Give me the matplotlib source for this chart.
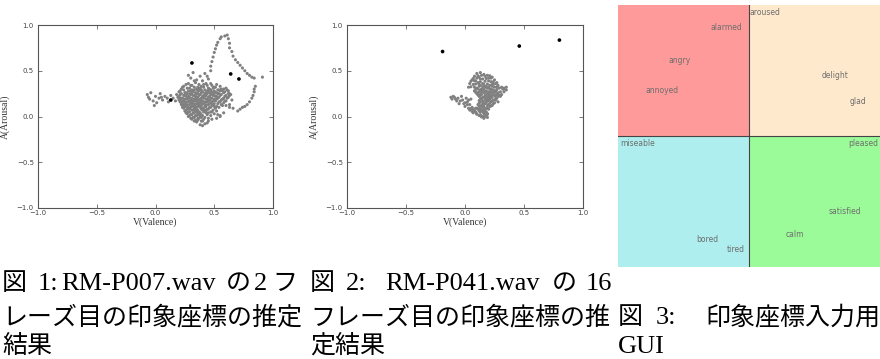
import matplotlib
matplotlib.use("Agg")
import matplotlib.pyplot as plt
from matplotlib.patches import Rectangle

# ---- data: fig 1 (RM-P007.wav, phrase 2) ----
p1_x = [-0.07, -0.06, -0.05, -0.04, -0.02, 0.00, 0.01, 0.03, 0.05, 0.06, 0.08, 0.10, 0.11, 0.13, 0.15, 0.17, 0.18, 0.20, -0.01, 0.04,
        0.28, 0.34, 0.41, 0.47,
        0.24, 0.30, 0.36, 0.39, 0.44, 0.50, 0.55,
        0.22, 0.27, 0.31, 0.35, 0.38, 0.42, 0.46, 0.49, 0.53, 0.58, 0.62,
        0.20, 0.25, 0.28, 0.32, 0.34, 0.37, 0.40, 0.43, 0.45, 0.48, 0.51, 0.55, 0.59, 0.63,
        0.21, 0.24, 0.27, 0.30, 0.33, 0.35, 0.38, 0.41, 0.44, 0.47, 0.50, 0.53, 0.56, 0.60, 0.64,
        0.19, 0.23, 0.26, 0.29, 0.31, 0.34, 0.36, 0.39, 0.42, 0.45, 0.48, 0.51, 0.54, 0.58, 0.62,
        0.20, 0.24, 0.27, 0.30, 0.32, 0.35, 0.37, 0.40, 0.43, 0.46, 0.49, 0.52, 0.56, 0.60, 0.65,
        0.22, 0.25, 0.28, 0.31, 0.33, 0.36, 0.38, 0.41, 0.44, 0.47, 0.50, 0.54, 0.58, 0.63,
        0.23, 0.26, 0.29, 0.32, 0.34, 0.37, 0.39, 0.42, 0.45, 0.48, 0.52, 0.57,
        0.24, 0.27, 0.30, 0.33, 0.35, 0.38, 0.41, 0.44, 0.47, 0.51,
        0.25, 0.28, 0.31, 0.34, 0.37, 0.40, 0.43, 0.47, 0.52, 0.58,
        0.27, 0.30, 0.33, 0.36, 0.39, 0.43, 0.50, 0.55,
        0.28, 0.32, 0.35, 0.38, 0.42, 0.47,
        0.31, 0.34, 0.37, 0.41,
        0.35, 0.39, 0.44, 0.38,
        0.28, 0.30, 0.32, 0.35, 0.38, 0.42, 0.45, 0.47, 0.33, 0.40, 0.44,
        0.47, 0.48, 0.49, 0.50, 0.51, 0.52, 0.53, 0.55, 0.56, 0.59, 0.61, 0.62, 0.63, 0.63, 0.65, 0.66, 0.68, 0.70, 0.72, 0.74, 0.76, 0.78, 0.80, 0.82, 0.84, 0.91,
        0.85, 0.84, 0.84, 0.83, 0.82, 0.80, 0.78, 0.76, 0.74, 0.72, 0.70, 0.66, 0.63, 0.60,
        0.40, 0.42, 0.45, 0.48, 0.52, 0.55, 0.53,
        # second, denser pass over the core
        0.26, 0.31, 0.37, 0.43, 0.48, 0.52,
        0.23, 0.29, 0.33, 0.37, 0.41, 0.45, 0.51, 0.56, 0.60,
        0.21, 0.24, 0.30, 0.33, 0.36, 0.39, 0.44, 0.47, 0.50, 0.54, 0.57, 0.61,
        0.22, 0.26, 0.29, 0.31, 0.36, 0.39, 0.42, 0.46, 0.49, 0.52, 0.54, 0.58, 0.62,
        0.20, 0.25, 0.28, 0.32, 0.34, 0.37, 0.40, 0.43, 0.46, 0.49, 0.52, 0.55, 0.59, 0.63,
        0.21, 0.22, 0.25, 0.28, 0.33, 0.35, 0.38, 0.41, 0.44, 0.47, 0.50, 0.53, 0.57, 0.61,
        0.21, 0.23, 0.26, 0.29, 0.31, 0.34, 0.36, 0.39, 0.42, 0.45, 0.48, 0.51, 0.55, 0.59,
        0.22, 0.24, 0.27, 0.30, 0.33, 0.35, 0.37, 0.40, 0.43, 0.46, 0.49, 0.53, 0.56,
        0.23, 0.25, 0.28, 0.31, 0.34, 0.36, 0.39, 0.43, 0.46, 0.50, 0.54,
        0.26, 0.29, 0.32, 0.34, 0.36, 0.39, 0.42, 0.45, 0.49,
        0.26, 0.29, 0.32, 0.35, 0.38, 0.41, 0.45, 0.48,
        0.29, 0.31, 0.34, 0.37, 0.40, 0.44,
        0.30, 0.33, 0.36, 0.39, 0.45,
        0.33, 0.36, 0.40]
p1_y = [0.24, 0.21, 0.19, 0.26, 0.17, 0.22, 0.15, 0.20, 0.21, 0.18, 0.22, 0.20, 0.16, 0.23, 0.20, 0.17, 0.24, 0.21, 0.12, 0.25,
        0.36, 0.37, 0.35, 0.36,
        0.33, 0.34, 0.32, 0.33, 0.34, 0.32, 0.33,
        0.30, 0.31, 0.29, 0.30, 0.31, 0.29, 0.30, 0.31, 0.29, 0.30, 0.28,
        0.27, 0.26, 0.28, 0.27, 0.26, 0.28, 0.27, 0.26, 0.28, 0.27, 0.26, 0.28, 0.27, 0.25,
        0.24, 0.23, 0.25, 0.24, 0.23, 0.25, 0.24, 0.23, 0.25, 0.24, 0.23, 0.25, 0.24, 0.23, 0.24,
        0.21, 0.20, 0.22, 0.21, 0.20, 0.22, 0.21, 0.20, 0.22, 0.21, 0.20, 0.22, 0.21, 0.20, 0.21,
        0.18, 0.17, 0.19, 0.18, 0.17, 0.19, 0.18, 0.17, 0.19, 0.18, 0.17, 0.19, 0.18, 0.17, 0.18,
        0.15, 0.14, 0.16, 0.15, 0.14, 0.16, 0.15, 0.14, 0.16, 0.15, 0.14, 0.16, 0.15, 0.13,
        0.12, 0.11, 0.13, 0.12, 0.11, 0.13, 0.12, 0.11, 0.13, 0.12, 0.11, 0.12,
        0.09, 0.08, 0.10, 0.09, 0.08, 0.10, 0.09, 0.08, 0.10, 0.09,
        0.06, 0.05, 0.07, 0.06, 0.05, 0.07, 0.06, 0.05, 0.06, 0.04,
        0.03, 0.02, 0.04, 0.03, 0.02, 0.04, 0.03, 0.01,
        0.00, -0.01, 0.01, 0.00, -0.01, 0.01,
        -0.03, -0.04, -0.02, -0.03,
        -0.06, -0.05, -0.07, -0.09,
        0.45, 0.42, 0.48, 0.40, 0.44, 0.47, 0.41, 0.50, 0.39, 0.39, 0.44,
        0.55, 0.60, 0.65, 0.70, 0.74, 0.78, 0.81, 0.85, 0.87, 0.88, 0.89, 0.85, 0.80, 0.75, 0.71, 0.66, 0.62, 0.59, 0.56, 0.53, 0.50, 0.47, 0.45, 0.43, 0.42, 0.43,
        0.33, 0.30, 0.27, 0.23, 0.20, 0.16, 0.13, 0.11, 0.10, 0.08, 0.06, 0.09, 0.10, 0.12,
        -0.10, -0.08, -0.05, -0.03, -0.02, 0.00, 0.02,
        0.35, 0.34, 0.35, 0.36, 0.34, 0.35,
        0.32, 0.31, 0.32, 0.30, 0.32, 0.31, 0.32, 0.30, 0.31,
        0.28, 0.29, 0.28, 0.29, 0.28, 0.29, 0.28, 0.29, 0.28, 0.29, 0.28, 0.29,
        0.25, 0.26, 0.25, 0.26, 0.25, 0.26, 0.25, 0.26, 0.25, 0.26, 0.25, 0.26, 0.25,
        0.22, 0.23, 0.22, 0.23, 0.22, 0.23, 0.22, 0.23, 0.22, 0.23, 0.22, 0.23, 0.22, 0.23,
        0.19, 0.20, 0.19, 0.20, 0.19, 0.20, 0.19, 0.20, 0.19, 0.20, 0.19, 0.20, 0.19, 0.20,
        0.16, 0.17, 0.16, 0.17, 0.16, 0.17, 0.16, 0.17, 0.16, 0.17, 0.16, 0.17, 0.16, 0.17,
        0.13, 0.14, 0.13, 0.14, 0.13, 0.14, 0.13, 0.14, 0.13, 0.14, 0.13, 0.14, 0.13,
        0.10, 0.11, 0.10, 0.11, 0.10, 0.11, 0.10, 0.11, 0.10, 0.11, 0.10,
        0.07, 0.08, 0.07, 0.08, 0.07, 0.08, 0.07, 0.08, 0.07,
        0.04, 0.05, 0.04, 0.05, 0.04, 0.05, 0.04, 0.05,
        0.01, 0.02, 0.01, 0.02, 0.01, 0.02,
        -0.02, -0.01, -0.02, -0.01, -0.02,
        -0.05, -0.04, -0.05]
p1_est_x = [0.31, 0.64, 0.71, 0.13]
p1_est_y = [0.585, 0.465, 0.41, 0.18]

# ---- data: fig 2 (RM-P041.wav, phrase 16) ----
p2_x = [0.10, 0.13, 0.16, 0.19, 0.08, 0.12, 0.20, 0.23, 0.06, 0.09, 0.15, 0.25, 0.04, 0.07, 0.11, 0.22, 0.27, 0.03, 0.28,
        0.13, 0.16, 0.18, 0.21, 0.24,
        0.10, 0.14, 0.17, 0.19, 0.22, 0.25, 0.29, 0.33,
        0.08, 0.12, 0.15, 0.18, 0.20, 0.23, 0.26, 0.30, 0.35,
        0.10, 0.13, 0.16, 0.19, 0.21, 0.24, 0.27, 0.31,
        0.12, 0.15, 0.17, 0.20, 0.22, 0.25, 0.28,
        0.14, 0.17, 0.19, 0.21, 0.24, 0.27,
        0.13, 0.16, 0.19, 0.22, 0.25,
        0.11, 0.14, 0.17, 0.20, 0.23,
        0.06, 0.09, 0.12, 0.15, 0.18, 0.21,
        0.04, 0.08, 0.11, 0.14, 0.17, 0.20,
        0.07, 0.10, 0.13, 0.16, 0.19,
        0.12, 0.15, 0.18,
        0.16, 0.19,
        -0.12, -0.10, -0.08, -0.06, -0.04, -0.02, 0.00, 0.02, 0.04, -0.03, 0.01, 0.05, -0.05, 0.00, 0.03,
        0.33, 0.35, 0.30, 0.28,
        # second, denser pass over the core
        0.11, 0.14, 0.17, 0.21,
        0.07, 0.10, 0.13, 0.18, 0.22,
        0.05, 0.08, 0.13, 0.17, 0.20, 0.24,
        0.09, 0.12, 0.15, 0.19, 0.23, 0.26,
        0.05, 0.08, 0.12, 0.15, 0.20, 0.23, 0.27, 0.31,
        0.09, 0.11, 0.13, 0.16, 0.21, 0.24, 0.27, 0.32,
        0.09, 0.11, 0.14, 0.17, 0.20, 0.22, 0.25, 0.28, 0.33,
        0.11, 0.14, 0.18, 0.21, 0.23, 0.26, 0.29,
        0.13, 0.16, 0.18, 0.21, 0.23, 0.26,
        0.12, 0.15, 0.18, 0.20, 0.23, 0.26,
        0.12, 0.15, 0.18, 0.21, 0.24,
        0.13, 0.16, 0.19, 0.22,
        0.05, 0.07, 0.10, 0.13, 0.16, 0.19,
        0.06, 0.09, 0.12, 0.15, 0.18,
        0.10, 0.13, 0.16, 0.19,
        0.14, 0.17,
        -0.11, -0.09, -0.07, -0.01, 0.02, 0.03]
p2_y = [0.47, 0.48, 0.46, 0.45, 0.44, 0.43, 0.42, 0.43, 0.40, 0.39, 0.41, 0.40, 0.36, 0.35, 0.37, 0.38, 0.37, 0.32, 0.34,
        0.34, 0.35, 0.33, 0.34, 0.35,
        0.31, 0.30, 0.32, 0.31, 0.30, 0.32, 0.31, 0.30,
        0.28, 0.27, 0.29, 0.28, 0.27, 0.29, 0.28, 0.27, 0.29,
        0.25, 0.24, 0.26, 0.25, 0.24, 0.26, 0.25, 0.24,
        0.22, 0.21, 0.23, 0.22, 0.21, 0.23, 0.22,
        0.19, 0.18, 0.20, 0.19, 0.18, 0.20,
        0.16, 0.15, 0.17, 0.16, 0.15,
        0.13, 0.12, 0.14, 0.13, 0.12,
        0.10, 0.09, 0.11, 0.10, 0.09, 0.11,
        0.07, 0.06, 0.08, 0.07, 0.06, 0.08,
        0.04, 0.03, 0.05, 0.04, 0.03,
        0.01, 0.00, 0.02,
        -0.02, -0.01,
        0.21, 0.22, 0.19, 0.20, 0.17, 0.18, 0.15, 0.16, 0.13, 0.22, 0.20, 0.19, 0.14, 0.11, 0.09,
        0.31, 0.32, 0.22, 0.16,
        0.445, 0.45, 0.44, 0.445,
        0.415, 0.42, 0.41, 0.415, 0.42,
        0.385, 0.39, 0.38, 0.385, 0.39, 0.38,
        0.355, 0.35, 0.36, 0.355, 0.35, 0.36,
        0.325, 0.32, 0.33, 0.325, 0.32, 0.33, 0.325, 0.32,
        0.295, 0.30, 0.29, 0.295, 0.30, 0.29, 0.295, 0.30,
        0.265, 0.26, 0.27, 0.265, 0.26, 0.27, 0.265, 0.26, 0.27,
        0.235, 0.24, 0.23, 0.235, 0.24, 0.23, 0.235,
        0.205, 0.21, 0.20, 0.205, 0.21, 0.20,
        0.175, 0.17, 0.18, 0.175, 0.17, 0.18,
        0.145, 0.14, 0.15, 0.145, 0.14,
        0.115, 0.11, 0.12, 0.115,
        0.085, 0.08, 0.09, 0.085, 0.08, 0.09,
        0.055, 0.05, 0.06, 0.055, 0.05,
        0.025, 0.02, 0.03, 0.025,
        -0.005, 0.00,
        0.19, 0.21, 0.17, 0.14, 0.13, 0.18]
p2_est_x = [-0.19, 0.46, 0.80]
p2_est_y = [0.71, 0.77, 0.835]

# ---- data: fig 3 (impression GUI) ----
gui_words = ["alarmed", "aroused", "angry", "annoyed", "delight", "glad",
             "miseable", "pleased", "satisfied", "calm", "bored", "tired"]
gui_v = [-0.17, 0.12, -0.53, -0.66, 0.66, 0.83, -0.85, 0.87, 0.73, 0.35, -0.32, -0.10]
gui_a = [0.83, 0.94, 0.58, 0.35, 0.46, 0.26, -0.06, -0.06, -0.58, -0.75, -0.79, -0.87]
quad_colors = {(-1, 0): "#ff9a9a", (0, 0): "#ffe9cc", (-1, -1): "#aeeeee", (0, -1): "#9afb98"}

captions = [
    ["レーズ目の印象座標の推定", "結果"],
    ["フレーズ目の印象座標の推", "定結果"],
]

W, H = 880, 359
fig = plt.figure(figsize=(W / 100, H / 100), dpi=100)

serif = ["Liberation Serif", "DejaVu Serif"]
cjk = ["Noto Sans CJK JP", "DejaVu Sans"]


def style_axes(ax):
    ax.set_xlim(-1, 1)
    ax.set_ylim(-1, 1)
    ax.set_xticks([-1, -0.5, 0, 0.5, 1])
    ax.set_yticks([-1, -0.5, 0, 0.5, 1])
    ax.tick_params(direction="in", length=3, width=0.5, top=True, right=True,
                   labelsize=5, colors="#444444")
    ax.tick_params(axis="x", pad=1.5)
    ax.tick_params(axis="y", pad=3)
    for s in ax.spines.values():
        s.set_color("#555555")
        s.set_linewidth(0.8)
    ax.set_xlabel("V(Valence)", family=serif, fontsize=7, labelpad=1, color="#333333")
    ax.set_ylabel("A(Arousal)", family=serif, fontsize=7, labelpad=5, color="#333333")


ax1 = fig.add_axes([38 / W, 1 - 208 / H, 235 / W, 183 / H])
ax1.scatter(p1_x, p1_y, s=5, color="#808080", edgecolors="none")
ax1.scatter(p1_est_x, p1_est_y, s=7, color="black", edgecolors="none")
style_axes(ax1)

ax2 = fig.add_axes([347 / W, 1 - 208 / H, 236 / W, 183 / H])
ax2.scatter(p2_x, p2_y, s=5, color="#808080", edgecolors="none")
ax2.scatter(p2_est_x, p2_est_y, s=7, color="black", edgecolors="none")
style_axes(ax2)

ax3 = fig.add_axes([618 / W, 1 - 267 / H, 262 / W, 262 / H])
ax3.set_xlim(-1, 1)
ax3.set_ylim(-1, 1)
for (x0, y0), c in quad_colors.items():
    ax3.add_patch(Rectangle((x0, y0), 1, 1, facecolor=c, edgecolor="none"))
ax3.axvline(0, color="#444444", lw=0.8)
ax3.axhline(0, color="#444444", lw=0.8)
for w, v, a in zip(gui_words, gui_v, gui_a):
    ax3.text(v, a, w, fontsize=5.5, color="#6e6e6e", ha="center", va="center")
ax3.set_xticks([])
ax3.set_yticks([])
for s in ax3.spines.values():
    s.set_visible(False)

# captions (baseline aligned, Latin in serif, Japanese in CJK)
cap_cjk = 18
cap_lat = 19
def put(x, base, s, lat=False, ha="left"):
    fig.text(x / W, 1 - base / H, s, fontsize=cap_lat if lat else cap_cjk,
             family=serif + cjk if lat else cjk, ha=ha, va="baseline")

b1, b2, b3 = 290, 324, 353

# caption 1, line 1 (justified)
put(2, b1, "図")
put(38, b1, "1:", lat=True)
put(61, b1, "RM-P007.wav", lat=True)
put(226, b1, "の")
put(254, b1, "2", lat=True)
put(297, b1, "フ", ha="right")
put(2, b2, captions[0][0])
put(2, b3, captions[0][1])

# caption 2, line 1 (justified)
put(310, b1, "図")
put(346, b1, "2:", lat=True)
put(385, b1, "RM-P041.wav", lat=True)
put(552, b1, "の")
put(612, b1, "16", lat=True, ha="right")
put(310, b2, captions[1][0])
put(310, b3, captions[1][1])

# caption 3
put(618, b2, "図")
put(656, b2, "3:", lat=True)
put(880, b2, "印象座標入力用", ha="right")
put(618, b3, "GUI", lat=True)

fig.savefig("out.png", dpi=100)
